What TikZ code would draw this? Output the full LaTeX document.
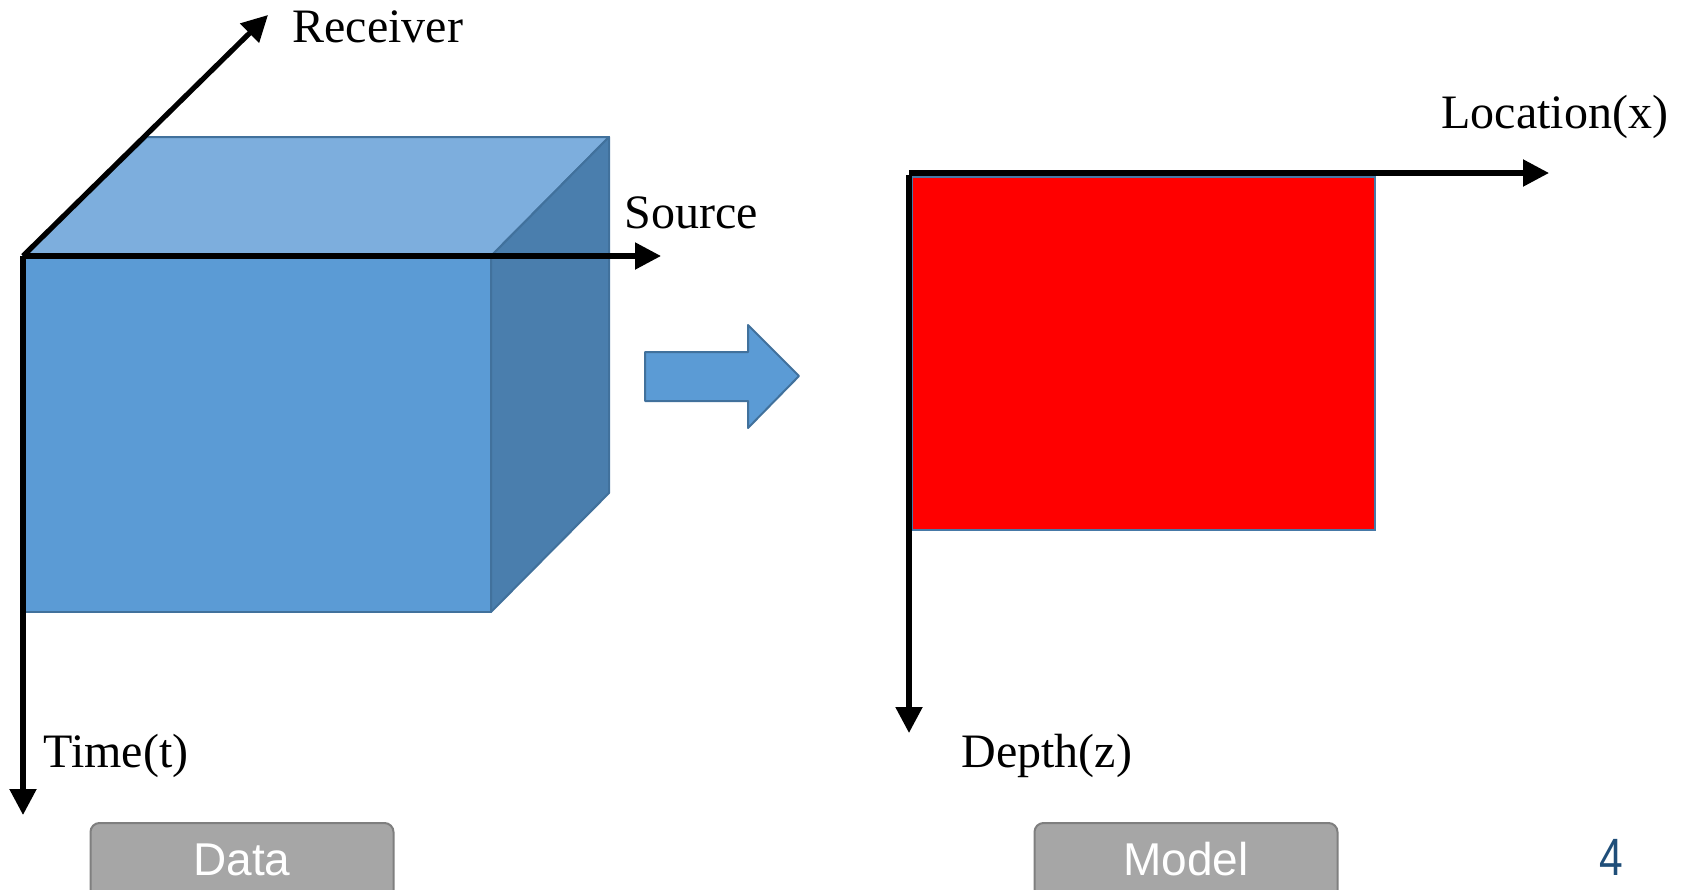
\documentclass[tikz,border=0pt]{standalone}
\usepackage{fontspec}
\setmainfont{Liberation Serif}
\newfontfamily\btnfont{Liberation Sans}
\usetikzlibrary{arrows.meta}

\definecolor{cubefront}{HTML}{5B9BD5}
\definecolor{cubetop}{HTML}{7DAEDD}
\definecolor{cubeside}{HTML}{4A7EAD}
\definecolor{cubeedge}{HTML}{41719C}
\definecolor{btnfill}{HTML}{A6A6A6}
\definecolor{btnedge}{HTML}{7F7F7F}
\definecolor{pagenum}{HTML}{1F4E79}

\begin{document}
\begin{tikzpicture}[x=0.5pt,y=-0.5pt,
  axis/.style={line width=2.6pt,-{Triangle[length=13pt,width=13pt]}},
  axislabel/.style={font=\fontsize{24}{28}\selectfont, inner sep=0pt, anchor=base west},
  face/.style={draw=cubeedge, line width=1pt, line join=round},
  btn/.style={draw=btnedge, fill=btnfill, line width=1pt, rounded corners=4.5pt,
    minimum width=151.5pt, minimum height=40pt, inner sep=0pt,
    text=white, font=\btnfont\fontsize{23}{27}\selectfont,
    text height=16.5pt, text depth=4.5pt}]
\useasboundingbox (0,0) rectangle (1681,889);
\clip (0,0) rectangle (1681,889);

% data cube: top, side and front faces
\filldraw[face, fill=cubetop]   (23,256) -- (147,137) -- (609,137) -- (491,256) -- cycle;
\filldraw[face, fill=cubeside]  (491,256) -- (609,137) -- (609,493) -- (491,612) -- cycle;
\filldraw[face, fill=cubefront] (23,256) rectangle (491,612);

% axes of the data cube
\coordinate (dorigin) at (23,256);
\coordinate (recvtip) at (268,15);
\coordinate (srctip)  at (661,256);
\coordinate (timetip) at (23,815);
\draw[axis] (dorigin) -- (recvtip);
\draw[axis] (dorigin) -- (srctip);
\draw[axis] (dorigin) -- (timetip);
\node[axislabel] (receiver) at (292,42)  {Receiver};
\node[axislabel] (source)   at (624,228) {Source};
\node[axislabel] (time)     at (43,767)  {Time(t)};

% block arrow from data to model
\filldraw[face, fill=cubefront]
  (645,352) -- (748,352) -- (748,325) -- (799,376) -- (748,428) -- (748,401) -- (645,401) -- cycle;

% model section
\filldraw[fill=red, draw=cubeedge!80!cubefront, line width=0.9pt] (912,177) rectangle (1375,530);
\coordinate (morigin) at (909,173);
\coordinate (mdown)   at (909,175);
\coordinate (loctip)  at (1549,173);
\coordinate (depthtip) at (909,733);
\draw[axis] (morigin) -- (loctip);
\draw[axis] (mdown) -- (depthtip);
\node[axislabel] (location) at (1441,128) {Location(x)};
\node[axislabel] (depth)    at (961,767)  {Depth(z)};

% captions
\node[btn] (databtn)  at (242,863)  {Data};
\node[btn] (modelbtn) at (1186,863) {Model};
\node[inner sep=0pt, anchor=base, text=pagenum, xscale=0.85, yscale=1.05,
  font=\btnfont\fontsize{25}{30}\selectfont] (pagenumber) at (1611,875) {4};
\end{tikzpicture}
\end{document}
